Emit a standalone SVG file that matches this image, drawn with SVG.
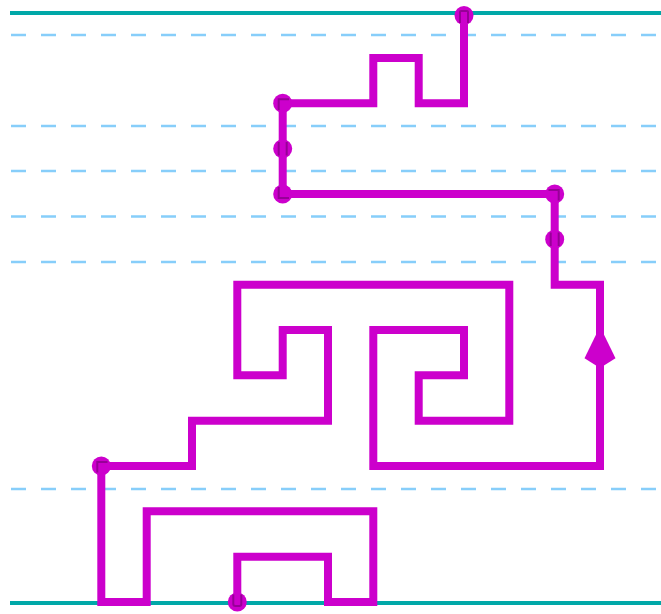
<svg xmlns="http://www.w3.org/2000/svg" width="661" height="614" viewBox="0 0 661 614">
<style>
.bound{stroke:#00a8a8;stroke-width:4;fill:none}
.guide{stroke:#87cefa;stroke-width:2.5;stroke-dasharray:15 15;fill:none}
.wire{stroke:#cc00cc;stroke-width:8;fill:none;stroke-linejoin:miter;stroke-linecap:square}
.dot{fill:#cc00cc}
.edge{stroke:#8a008a;stroke-width:2;fill:none;opacity:0.8}
.arrow{fill:#cc00cc}
</style>
<rect width="661" height="614" fill="#ffffff"/>
<g id="bounds">
<line class="bound" x1="10" y1="13" x2="661" y2="13"/>
<line class="bound" x1="10" y1="603" x2="661" y2="603"/>
</g>
<g id="guides">
<line class="guide" x1="11" y1="35" x2="661" y2="35"/>
<line class="guide" x1="11" y1="126" x2="661" y2="126"/>
<line class="guide" x1="11" y1="171" x2="661" y2="171"/>
<line class="guide" x1="11" y1="216.5" x2="661" y2="216.5"/>
<line class="guide" x1="11" y1="262" x2="661" y2="262"/>
<line class="guide" x1="11" y1="489" x2="661" y2="489"/>
</g>
<g id="connectors">
<path class="wire" d="M237.3,602 V556.7 H328 V602 H373.3 V511.3 H146.7 V602 H101.3 V466 H192 V420.7 H328 V330 H282.7 V375.3 H237.3 V284.7 H509.3 V420.7 H418.7 V375.3 H464 V330 H373.3 V466 H600 V284.7 H554.7 V194 H282.7 V103.3 H373.3 V58 H418.7 V103.3 H464 V15"/>
<path class="arrow" d="M600,326.5 L615.5,358.3 L600,368 L584.5,358.3 Z"/>
</g>
<g id="node-top">
<circle class="dot" cx="464" cy="15.5" r="9.5"/>
<path class="edge" d="M460,23 V12 Q460,11 461,11 H467 Q468,11 468,12 V23"/>
</g>
<g id="node-a">
<circle class="dot" cx="282.7" cy="103.3" r="9.5"/>
<path class="edge" d="M278.7,110 V99.3 H289"/>
</g>
<g id="node-b">
<circle class="dot" cx="282.7" cy="148.7" r="9.5"/>
<path class="edge" d="M278.7,142 V155.5 M286.7,142 V155.5"/>
</g>
<g id="node-c">
<circle class="dot" cx="282.7" cy="194" r="9.5"/>
<path class="edge" d="M278.7,187 V198 H289"/>
</g>
<g id="node-d">
<circle class="dot" cx="554.7" cy="194" r="9.5"/>
<path class="edge" d="M548.5,190 H558.7 V200.5"/>
</g>
<g id="node-e">
<circle class="dot" cx="554.7" cy="239.3" r="9.5"/>
<path class="edge" d="M550.7,232.5 V246 M558.7,232.5 V246"/>
</g>
<g id="node-f">
<circle class="dot" cx="101.3" cy="466" r="9.5"/>
<path class="edge" d="M97.3,472.5 V462 H107.5"/>
</g>
<g id="node-bottom">
<circle class="dot" cx="237.3" cy="602" r="9.5"/>
<path class="edge" d="M233.3,594.5 V604 Q233.3,606 235.3,606 H239.3 Q241.3,606 241.3,604 V594.5"/>
</g>
</svg>
